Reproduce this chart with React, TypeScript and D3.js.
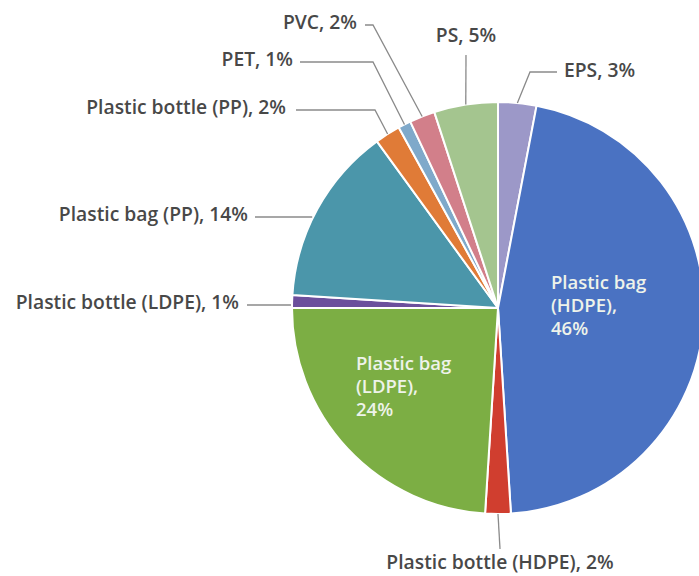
import React from "react";
import * as d3 from "d3";

const categories = [
  "EPS",
  "Plastic bag (HDPE)",
  "Plastic bottle (HDPE)",
  "Plastic bag (LDPE)",
  "Plastic bottle (LDPE)",
  "Plastic bag (PP)",
  "Plastic bottle (PP)",
  "PET",
  "PVC",
  "PS",
];
const shares = [3, 46, 2, 24, 1, 14, 2, 1, 2, 5];
const colors = [
  "#9c98c8",
  "#4a72c2",
  "#d03e2f",
  "#7cae44",
  "#6b4f9c",
  "#4b96aa",
  "#e07b37",
  "#7fa9ca",
  "#d27f8a",
  "#a4c58f",
];

const W = 699;
const H = 576;
const CX = 498;
const CY = 308;
const R = 206;

type Lay = { tx: number; ty: number; anchor: string; sx?: number; sy?: number; ex?: number; ey?: number; inside?: boolean; edgeY?: number };
const layout: Lay[] = [
  { tx: 564, ty: 72, anchor: "start", sx: 557, sy: 72, ex: 530, ey: 72 },
  { tx: 551, ty: 284, anchor: "start", inside: true },
  { tx: 500, ty: 564, anchor: "middle", sx: 500, sy: 549, ex: 500, ey: 549 },
  { tx: 356, ty: 365, anchor: "start", inside: true },
  { tx: 239, ty: 304, anchor: "end", sx: 247, sy: 305, edgeY: 305 },
  { tx: 248, ty: 216, anchor: "end", sx: 255, sy: 217, edgeY: 217 },
  { tx: 286, ty: 109, anchor: "end", sx: 296, sy: 110, ex: 375, ey: 110 },
  { tx: 293, ty: 61, anchor: "end", sx: 300, sy: 62, ex: 373, ey: 62 },
  { tx: 357, ty: 24, anchor: "end", sx: 365, sy: 25, ex: 373, ey: 25 },
  { tx: 466, ty: 37, anchor: "middle", sx: 466, sy: 55, ex: 466, ey: 55 },
];

const FONT = "'Open Sans', 'Noto Sans', sans-serif";
const FS = 19.3;

export default function App() {
  const pie = d3.pie<number>().sort(null).value((d) => d)(shares);
  const arc = d3.arc<d3.PieArcDatum<number>>().innerRadius(0).outerRadius(R);

  return (
    <svg
      width={W}
      height={H}
      style={{ position: "absolute", left: 0, top: 0, background: "#ffffff" }}
      fontFamily={FONT}
    >
      <g transform={`translate(${CX},${CY})`}>
        {pie.map((p, i) => (
          <path key={i} d={arc(p) || ""} fill={colors[i]} stroke="#ffffff" strokeWidth={2} strokeLinejoin="round" />
        ))}
      </g>
      {pie.map((p, i) => {
        const L = layout[i];
        const label = `${categories[i]}, ${shares[i]}%`;
        if (L.inside) {
          const m = categories[i].match(/^(.*) (\(.*\))$/);
          const lines = m ? [m[1], m[2] + ",", `${shares[i]}%`] : [label];
          return (
            <g key={i}>
              {lines.map((t, k) => (
                <text key={k} x={L.tx} y={L.ty + k * 23} fill="#eef3ea" fontSize={18.5} fontWeight={600} dominantBaseline="middle">
                  {t}
                </text>
              ))}
            </g>
          );
        }
        const mid = (p.startAngle + p.endAngle) / 2;
        let px = CX + R * Math.sin(mid);
        let py = CY - R * Math.cos(mid);
        const pts: [number, number][] = [[L.sx!, L.sy!]];
        if (L.edgeY !== undefined) {
          px = CX - Math.sqrt(R * R - (L.edgeY - CY) ** 2) - 1;
          py = L.edgeY;
        } else if (L.ex !== undefined) {
          pts.push([L.ex, L.ey!]);
        }
        pts.push([px, py]);
        return (
          <g key={i}>
            <path d={d3.line()(pts) || ""} fill="none" stroke="#8a8a8a" strokeWidth={1.3} />
            <text x={L.tx} y={L.ty} fill="#484848" fontSize={FS} fontWeight={600} textAnchor={L.anchor} dominantBaseline="middle">
              {label}
            </text>
          </g>
        );
      })}
    </svg>
  );
}
